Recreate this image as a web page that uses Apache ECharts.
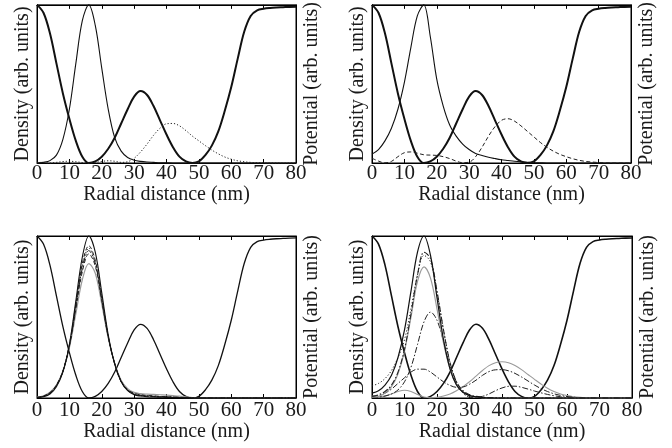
<!DOCTYPE html>
<html><head><meta charset="utf-8">
<script src="https://cdn.jsdelivr.net/npm/echarts@6/dist/echarts.min.js"></script>
<style>html,body{margin:0;padding:0;background:#fff}#c{width:672px;height:448px}</style>
</head><body><div id="c"></div>
<script>
// x grid (nm)
const X = [0,2,4,6,8,10,12,14,16,18,20,22,24,26,28,30,32,34,36,38,40,42,44,46,48,50,52,54,56,58,60,62,64,66,68,70,72,74,76,78,80];
const xTicks = [0,10,20,30,40,50,60,70,80];
// potential (same in all panels)
const POT = [1.0,0.95,0.82,0.63,0.44,0.28,0.14,0.04,0.0,0.01,0.04,0.09,0.16,0.25,0.34,0.42,0.455,0.43,0.36,0.27,0.18,0.1,0.04,0.01,0.0,0.01,0.05,0.11,0.2,0.33,0.48,0.66,0.83,0.93,0.965,0.975,0.98,0.983,0.985,0.987,0.988];
// panel (a)
const A_ground = [0.0,0.004,0.015,0.05,0.15,0.34,0.63,0.9,1.0,0.87,0.6,0.34,0.16,0.075,0.035,0.018,0.01,0.006,0.004,0.002,0.001,0,0,0,0,0,0,0,0,0,0,0,0,0,0,0,0,0,0,0,0];
const A_excited = [0.006,0.002,0.0,0.004,0.009,0.011,0.008,0.003,0.0,0.004,0.01,0.014,0.011,0.004,0.008,0.03,0.07,0.12,0.175,0.22,0.248,0.25,0.235,0.205,0.17,0.14,0.11,0.082,0.058,0.038,0.024,0.014,0.008,0.004,0.002,0.001,0,0,0,0,0];
// panel (b)
const B_ground = [0.056,0.085,0.14,0.22,0.34,0.51,0.73,0.93,1.0,0.8,0.53,0.36,0.24,0.17,0.12,0.085,0.06,0.047,0.036,0.028,0.021,0.016,0.011,0.007,0.004,0.002,0.001,0,0,0,0,0,0,0,0,0,0,0,0,0,0];
const B_excited = [0.03,0.012,0.001,0.01,0.04,0.065,0.07,0.062,0.052,0.05,0.048,0.04,0.028,0.012,0.002,0.005,0.04,0.1,0.17,0.23,0.27,0.28,0.265,0.235,0.2,0.165,0.13,0.1,0.075,0.055,0.04,0.027,0.017,0.01,0.006,0.003,0.001,0,0,0,0];
// panel (c)
const C1 = [0.002,0.008,0.025,0.07,0.16,0.33,0.6,0.87,1.0,0.9,0.65,0.39,0.21,0.1,0.045,0.02,0.012,0.008,0.006,0.005,0.004,0.003,0.002,0.001,0,0,0,0,0,0,0,0,0,0,0,0,0,0,0,0,0];
const C2 = [0.003,0.01,0.03,0.075,0.165,0.33,0.58,0.83,0.94,0.85,0.62,0.38,0.21,0.1,0.047,0.024,0.015,0.011,0.009,0.007,0.006,0.004,0.003,0.002,0.001,0,0,0,0,0,0,0,0,0,0,0,0,0,0,0,0];
const C3 = [0.003,0.01,0.03,0.076,0.165,0.325,0.57,0.815,0.925,0.84,0.615,0.38,0.21,0.1,0.048,0.025,0.016,0.012,0.01,0.008,0.006,0.005,0.003,0.002,0.001,0,0,0,0,0,0,0,0,0,0,0,0,0,0,0,0];
const C4 = [0.003,0.011,0.032,0.078,0.166,0.322,0.56,0.8,0.91,0.83,0.61,0.38,0.212,0.102,0.05,0.027,0.018,0.014,0.011,0.009,0.007,0.005,0.004,0.002,0.001,0,0,0,0,0,0,0,0,0,0,0,0,0,0,0,0];
const C5 = [0.004,0.012,0.033,0.08,0.167,0.318,0.55,0.78,0.89,0.815,0.6,0.375,0.212,0.104,0.052,0.029,0.02,0.016,0.013,0.01,0.008,0.006,0.004,0.002,0.001,0,0,0,0,0,0,0,0,0,0,0,0,0,0,0,0];
const C6 = [0.005,0.013,0.035,0.08,0.165,0.31,0.52,0.73,0.83,0.77,0.58,0.37,0.215,0.11,0.058,0.035,0.027,0.024,0.022,0.02,0.018,0.015,0.011,0.007,0.003,0.001,0,0,0,0,0,0,0,0,0,0,0,0,0,0,0];
// panel (d)
const D1 = [0.03,0.045,0.08,0.14,0.25,0.42,0.66,0.9,1.0,0.88,0.62,0.36,0.18,0.08,0.035,0.015,0.007,0.003,0.001,0,0,0,0,0,0,0,0,0,0,0,0,0,0,0,0,0,0,0,0,0,0];
const D2 = [0.01,0.02,0.04,0.08,0.16,0.3,0.52,0.76,0.9,0.86,0.66,0.42,0.22,0.1,0.045,0.02,0.01,0.005,0.002,0.001,0,0,0,0,0,0,0,0,0,0,0,0,0,0,0,0,0,0,0,0,0];
const D3 = [0.005,0.01,0.03,0.07,0.15,0.29,0.5,0.72,0.81,0.74,0.55,0.34,0.18,0.08,0.035,0.015,0.006,0.002,0,0,0,0,0,0,0,0,0,0,0,0,0,0,0,0,0,0,0,0,0,0,0];
const D4 = [0.075,0.09,0.12,0.17,0.25,0.36,0.55,0.76,0.88,0.84,0.65,0.42,0.22,0.1,0.04,0.015,0.005,0,0,0,0,0,0,0,0,0,0,0,0,0,0,0,0,0,0,0,0,0,0,0,0];
const D5 = [0.003,0.006,0.012,0.025,0.05,0.1,0.19,0.33,0.47,0.53,0.48,0.35,0.2,0.09,0.03,0.005,0.003,0.01,0.025,0.045,0.062,0.072,0.073,0.066,0.055,0.043,0.032,0.022,0.014,0.008,0.004,0.002,0.001,0,0,0,0,0,0,0,0];
const D6 = [0.01,0.015,0.03,0.055,0.09,0.125,0.16,0.178,0.178,0.16,0.13,0.1,0.078,0.066,0.068,0.085,0.11,0.14,0.163,0.174,0.175,0.168,0.152,0.13,0.105,0.08,0.058,0.04,0.026,0.016,0.009,0.005,0.002,0.001,0,0,0,0,0,0,0];
const D7 = [0.012,0.008,0.012,0.025,0.04,0.048,0.04,0.022,0.006,0.001,0.004,0.012,0.025,0.045,0.07,0.1,0.135,0.17,0.2,0.218,0.224,0.218,0.2,0.175,0.145,0.115,0.086,0.06,0.04,0.025,0.015,0.008,0.004,0.002,0.001,0,0,0,0,0,0];

const FONT = 'Liberation Serif';
const grids = [
  {left:37, top:1, width:259, height:162},
  {left:372, top:1, width:259, height:162},
  {left:37, top:236, width:259, height:162},
  {left:372, top:236, width:260, height:162}
];
const nameGaps = [18, 18, 22, 22];
const xAxes = [], yAxes = [];
grids.forEach((g, i) => {
  xAxes.push({
    type:'value', gridIndex:i, min:0, max:80, interval:10,
    name:'Radial distance (nm)', nameLocation:'middle', nameGap:nameGaps[i],
    nameTextStyle:{fontFamily:FONT, fontSize:20, color:'#1a1a1a'},
    axisLine:{show:true, onZero:false, lineStyle:{color:'#000', width:1}},
    axisTick:{inside:true, length:4, lineStyle:{color:'#000'}},
    axisLabel:{fontFamily:FONT, fontSize:21, color:'#1a1a1a', margin: i<2 ? 0 : 2,
      formatter: v => xTicks.includes(v) ? String(v) : ''},
    splitLine:{show:false}
  });
  xAxes.push({
    type:'value', gridIndex:i, min:0, max:80, interval:10, position:'top',
    axisLine:{show:true, onZero:false, lineStyle:{color:'#000', width:1}},
    axisTick:{inside:true, length:4, lineStyle:{color:'#000'}},
    axisLabel:{show:false}, splitLine:{show:false}
  });
  yAxes.push({
    type:'value', gridIndex:i, min:0, max:1,
    name:'Density (arb. units)', nameLocation:'middle', nameGap:4, nameRotate:90,
    nameTextStyle:{fontFamily:FONT, fontSize:20, color:'#1a1a1a'},
    axisLine:{show:true, onZero:false, lineStyle:{color:'#000', width:1}},
    axisTick:{show:false}, axisLabel:{show:false}, splitLine:{show:false}
  });
  yAxes.push({
    type:'value', gridIndex:i, min:0, max:1, position:'right',
    name:'Potential (arb. units)', nameLocation:'middle', nameGap:6, nameRotate:90,
    nameTextStyle:{fontFamily:FONT, fontSize:20, color:'#1a1a1a'},
    axisLine:{show:true, onZero:false, lineStyle:{color:'#000', width:1}},
    axisTick:{show:false}, axisLabel:{show:false}, splitLine:{show:false}
  });
});

const pairs = Y => X.map((x, k) => [x, Y[k]]);
function line(panel, Y, color, width, type) {
  return {
    type:'line', xAxisIndex:panel*2, yAxisIndex:panel*2, data:pairs(Y),
    showSymbol:false, symbol:'none', smooth:0.35, clip:false, silent:true,
    lineStyle:{color:color, width:width, type:type || 'solid'}
  };
}
const DOT = [1.2,2];
const DASH = [4,2.5];
const DASHDOT = [6,2,1.5,2];
const series = [
  line(0, POT, '#111', 2),
  line(0, A_ground, '#111', 1.1),
  line(0, A_excited, '#222', 1, DOT),
  line(1, POT, '#111', 2),
  line(1, B_ground, '#111', 1.1),
  line(1, B_excited, '#222', 1, DASH),
  line(2, POT, '#111', 1.3),
  line(2, C6, '#9a9a9a', 1.2),
  line(2, C5, '#222', 1, DASH),
  line(2, C4, '#222', 1, DASHDOT),
  line(2, C3, '#222', 1, DOT),
  line(2, C2, '#222', 1, DASH),
  line(2, C1, '#111', 1.1),
  line(3, POT, '#111', 1.6),
  line(3, D7, '#9a9a9a', 1.1),
  line(3, D6, '#222', 1, DASHDOT),
  line(3, D5, '#222', 1, DASHDOT),
  line(3, D4, '#222', 1, DOT),
  line(3, D3, '#9a9a9a', 1.2),
  line(3, D2, '#222', 1.1, DASHDOT),
  line(3, D1, '#111', 1.2)
];

const chart = echarts.init(document.getElementById('c'), null, {renderer:'canvas'});
chart.setOption({
  animation:false,
  backgroundColor:'#fff',
  grid: grids.map(g => Object.assign({show:true, borderColor:'#000', borderWidth:1, backgroundColor:'transparent'}, g)),
  xAxis: xAxes,
  yAxis: yAxes,
  series: series
});
</script>
</body></html>
